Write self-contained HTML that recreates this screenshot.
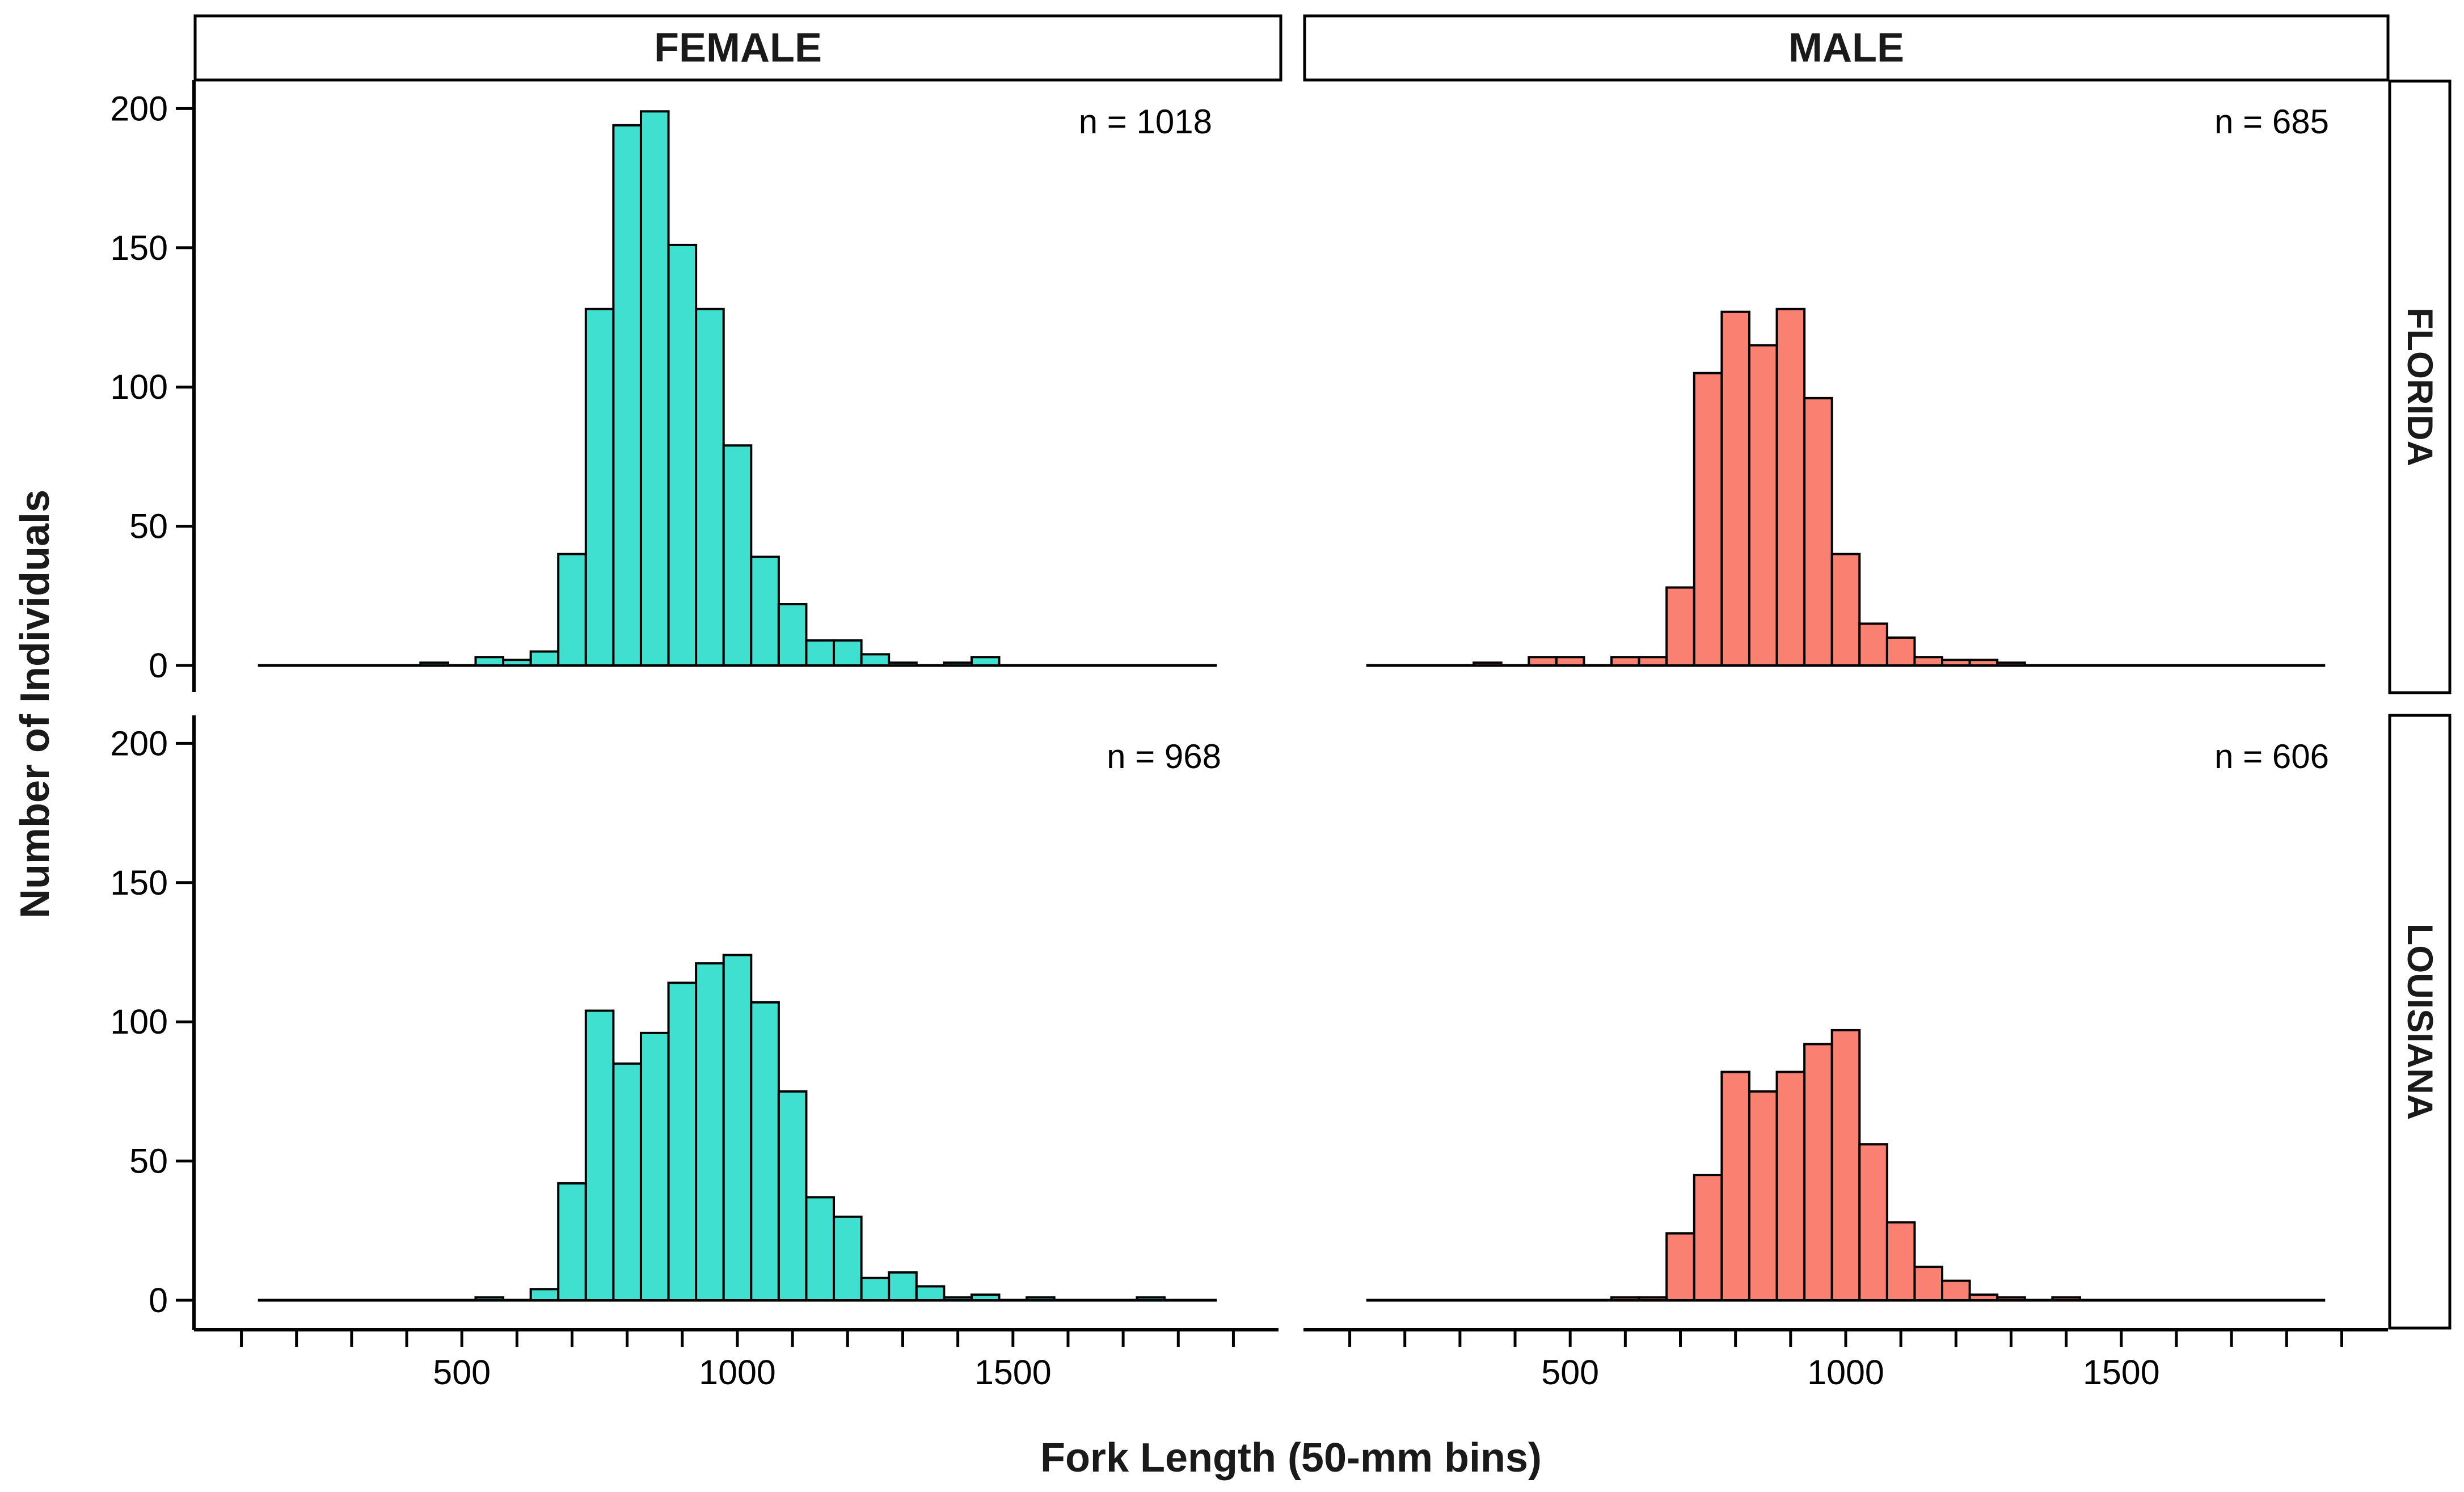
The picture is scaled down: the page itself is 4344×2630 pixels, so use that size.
<!DOCTYPE html>
<html><head><meta charset="utf-8"><style>
html,body{margin:0;padding:0;background:#fff;}
svg{display:block;font-family:"Liberation Sans",Arial,sans-serif;}
</style></head><body>
<svg id="chart" width="4344" height="2630" viewBox="0 0 4344 2630" xmlns="http://www.w3.org/2000/svg">
<rect width="4344" height="2630" fill="#fff"/>
<g id="layer"></g>
<text x="2276" y="2594" font-size="72" font-weight="bold" text-anchor="middle" fill="#1a1a1a">Fork Length (50-mm bins)</text>
<text transform="translate(86,1241) rotate(-90)" font-size="72" font-weight="bold" text-anchor="middle" fill="#1a1a1a">Number of Individuals</text>
</svg>
<script>
// ---- data ----
const binCenters = [350,400,450,500,550,600,650,700,750,800,850,900,950,1000,1050,1100,1150,1200,1250,1300,1350,1400,1450,1500,1550,1600,1650,1700,1750];
const femaleFlorida   = [0,0,1,0,3,2,5,40,128,194,199,151,128,79,39,22,9,9,4,1,0,1,3,0,0,0,0,0,0];
const maleFlorida     = [1,0,3,3,0,3,3,28,105,127,115,128,96,40,15,10,3,2,2,1,0,0,0,0,0,0,0,0,0];
const femaleLouisiana = [0,0,0,0,1,0,4,42,104,85,96,114,121,124,107,75,37,30,8,10,5,1,2,0,1,0,0,0,1];
const maleLouisiana   = [0,0,0,0,0,1,1,24,45,82,75,82,92,97,56,28,12,7,2,1,0,1,0,0,0,0,0,0,0];
const panelCounts = ["n = 1018","n = 685","n = 968","n = 606"];
const yTicks = [0,50,100,150,200];
const xTickLabels = [500,1000,1500];
const xMinorTicks = [100,200,300,400,500,600,700,800,900,1000,1100,1200,1300,1400,1500,1600,1700,1800,1900];
const binWidth = 50;

const NS="http://www.w3.org/2000/svg";
const layer=document.getElementById('layer');
function mk(tag,attrs,parent){const e=document.createElementNS(NS,tag);for(const k in attrs)e.setAttribute(k,attrs[k]);(parent||layer).appendChild(e);return e;}

const pxPerMM=0.9716;
function xScale(offset){return mm=>1300+offset+(mm-1000)*pxPerMM;}
function yScale(base){return v=>base-v*4.908;}

const panels=[
 {name:'female-florida',data:femaleFlorida,fill:'#40E0D0',xo:0,base:1173,n:panelCounts[0],nx:2137,ny:235},
 {name:'male-florida',data:maleFlorida,fill:'#FA8072',xo:1954,base:1173,n:panelCounts[1],nx:4106,ny:235},
 {name:'female-louisiana',data:femaleLouisiana,fill:'#40E0D0',xo:0,base:2292,n:panelCounts[2],nx:2153,ny:1354},
 {name:'male-louisiana',data:maleLouisiana,fill:'#FA8072',xo:1954,base:2292,n:panelCounts[3],nx:4106,ny:1354}
];

panels.forEach(p=>{
  const xs=xScale(p.xo), ys=yScale(p.base);
  const g=mk('g',{});
  
  
  const bl=mk('line',{x1:xs(130),x2:xs(1870),y1:p.base,y2:p.base,stroke:'#000','stroke-width':5},g);
  
  
  binCenters.forEach((c,i)=>{
    const v=p.data[i]; if(!v) return;
    const x0=xs(c-binWidth/2), x1=xs(c+binWidth/2);
    const r=mk('rect',{x:x0,y:ys(v),width:x1-x0,height:p.base-ys(v),fill:p.fill,stroke:'#000','stroke-width':4},g);
    
    
  });
  const t=mk('text',{x:p.nx,y:p.ny,'font-size':60,'text-anchor':'end',fill:'#000'},g);
  t.textContent=p.n;
  
  
});

function strip(x,y,w,h,label,rot,name){
  const g=mk('g',{});
  
  
  mk('rect',{x:x,y:y,width:w,height:h,fill:'#fff',stroke:'#000','stroke-width':5},g);
  const cx=x+w/2, cy=y+h/2;
  const t=mk('text',{x:0,y:0,'font-size':rot?63:72,'font-weight':'bold','text-anchor':'middle','dominant-baseline':'central',fill:'#1a1a1a',transform:'translate('+cx+','+cy+')'+(rot?' rotate(90)':'')},g);
  t.textContent=label;
}
strip(344,28,1914,113,'FEMALE',false,'strip-female');
strip(2300,28,1910,113,'MALE',false,'strip-male');
strip(4213,143,106,1078,'FLORIDA',true,'strip-florida');
strip(4213,1261,106,1080,'LOUISIANA',true,'strip-louisiana');

[[1173,141,1220],[2292,1261,2344]].forEach(([base,top,bot],k)=>{
  const ys=yScale(base);
  const g=mk('g',{});
  
  
  mk('line',{x1:342,x2:342,y1:top,y2:bot,stroke:'#000','stroke-width':6},g);
  yTicks.forEach(v=>{
    mk('line',{x1:310,x2:342,y1:ys(v),y2:ys(v),stroke:'#000','stroke-width':5},g);
    const t=mk('text',{x:296,y:ys(v),'font-size':61,'text-anchor':'end','dominant-baseline':'central',fill:'#000'},g);
    t.textContent=v;
  });
});

[[0,342,2254],[1954,2298,4210]].forEach(([off,a,b],k)=>{
  const xs=xScale(off);
  const g=mk('g',{});
  
  
  mk('line',{x1:a,x2:b,y1:2344,y2:2344,stroke:'#000','stroke-width':6},g);
  xMinorTicks.forEach(m=>mk('line',{x1:xs(m),x2:xs(m),y1:2344,y2:2374,stroke:'#000','stroke-width':5},g));
  xTickLabels.forEach(m=>{
    const t=mk('text',{x:xs(m),y:2419,'font-size':61,'text-anchor':'middle','dominant-baseline':'central',fill:'#000'},g);
    t.textContent=m;
  });
});
</script>
</body></html>
